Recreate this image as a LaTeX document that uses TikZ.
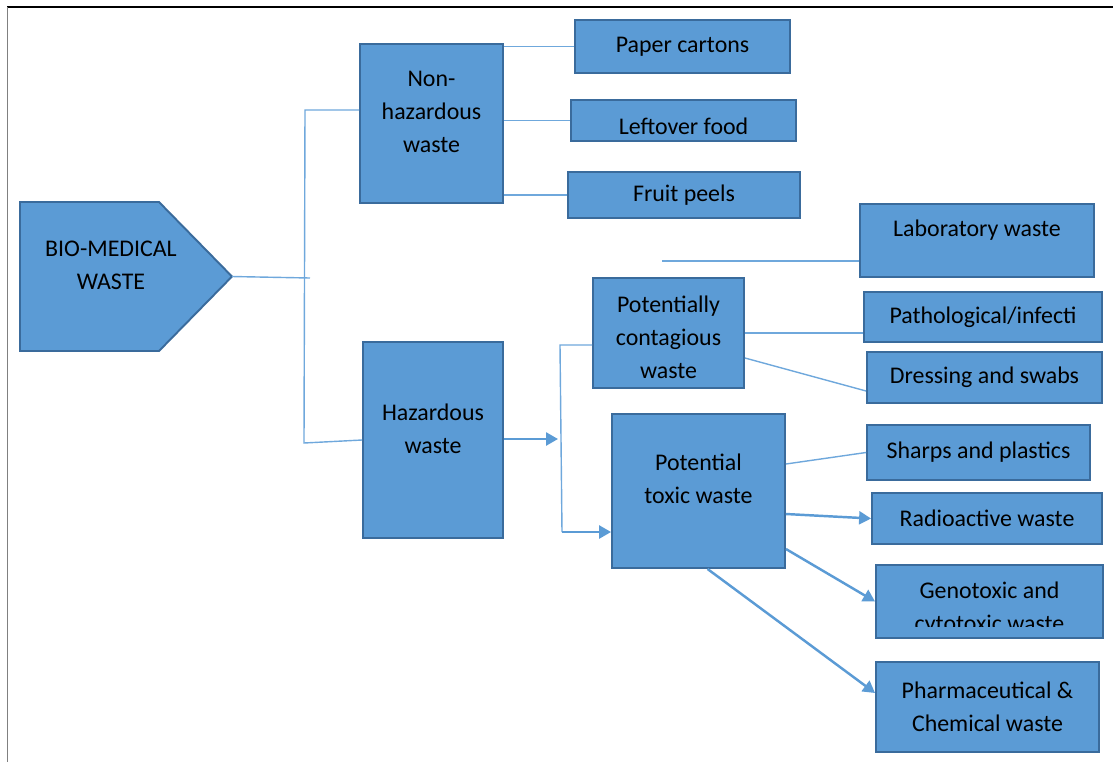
\documentclass[tikz,border=0pt]{standalone}
\usepackage{fontspec}
\setmainfont{Carlito}
\usetikzlibrary{positioning}
\usetikzlibrary{calc}
\usetikzlibrary{arrows.meta}
\definecolor{boxfill}{HTML}{5B9BD5}
\definecolor{boxline}{HTML}{3A6B9C}
\definecolor{linkcol}{HTML}{6FA8DC}

\begin{document}
\begin{tikzpicture}[x=0.02cm, y=-0.02cm, font=\fontsize{13.6}{18.9}\selectfont,
        box/.style={draw=boxline, fill=boxfill, line width=1.1pt, inner sep=0pt, align=center},
        txt/.style={align=center, inner sep=0pt},
        conn/.style={draw=linkcol, line width=0.8pt},
        arrow/.style={draw=boxfill, line width=1.4pt, -{Triangle[length=6.8pt, width=7.4pt]}}]
        \useasboundingbox (0,0) rectangle (1113,762);
        \draw[line width=1.2pt] (7,7) -- (1113,7);
        \draw[gray, line width=0.5pt] (7,7) -- (7,762);

        \draw[box] (20,202) -- (159,202) -- (232,276.5) -- (159,351) -- (20,351) -- cycle;
        \coordinate (tip) at (232,276.5);
        \node[txt] (bmw) at (111,265) {BIO-MEDICAL\\WASTE};

        \node[box, minimum width=2.86cm, minimum height=3.18cm, label={[txt, yshift=0.23cm]center:Non-\\hazardous\\waste}] (nonhaz) at (431.5,123.5) {};
        \node[box, minimum width=2.80cm, minimum height=3.92cm, label={[txt, yshift=0.22cm]center:Hazardous\\waste}] (haz) at (433,440) {};

        \node[box, minimum width=4.30cm, minimum height=1.06cm] (paper) at (682.5,46.5) {Paper cartons};
        \node[box, minimum width=4.50cm, minimum height=0.82cm, label={[txt, yshift=-0.11cm]center:Leftover food}] (leftover) at (683.5,120.5) {};
        \node[box, minimum width=4.64cm, minimum height=0.92cm] (fruit) at (684,195) {Fruit peels};

        \node[box, minimum width=4.68cm, minimum height=1.46cm, label={[txt, yshift=0.21cm]center:Laboratory waste}] (lab) at (977,240.5) {};
        \node[box, minimum width=3.02cm, minimum height=2.20cm, label={[txt, yshift=-0.09cm]center:Potentially\\contagious\\waste}] (contag) at (668.5,333) {};
        \node[box, minimum width=3.46cm, minimum height=3.08cm, label={[txt, yshift=0.25cm]center:Potential\\toxic waste}] (toxic) at (698.5,491) {};

        \node[box, minimum width=4.76cm, minimum height=1.00cm] (patho) at (983,317) {Pathological/infecti};
        \node[box, minimum width=4.70cm, minimum height=1.02cm] (dress) at (984.5,377.5) {Dressing and swabs};
        \node[box, minimum width=4.46cm, minimum height=1.10cm] (sharps) at (978.5,452.5) {Sharps and plastics};
        \node[box, minimum width=4.60cm, minimum height=1.02cm] (radio) at (987,518.5) {Radioactive waste};
        \node[box, minimum width=4.54cm, minimum height=1.46cm, path picture={
                \clip ([yshift=0.24cm]path picture bounding box.south west) rectangle (path picture bounding box.north east);
                \node[txt] (genotxt) at ([yshift=-0.15cm]path picture bounding box.center) {Genotoxic and\\cytotoxic waste};}] (geno) at (989.5,601.5) {};
        \node[box, minimum width=4.46cm, minimum height=1.80cm] (pharma) at (987.5,707) {Pharmaceutical \&\\Chemical waste};

        \coordinate (busM) at (310,278);
        \coordinate (busT) at (305,110);
        \coordinate (busB) at (304,443);
        \draw[conn] (tip) -- (busM);
        \draw[conn] (nonhaz.west |- busT) -- (busT) -- (busB) -- (haz.west);

        \draw[conn] (nonhaz.east |- paper) -- (paper);
        \draw[conn] (nonhaz.east |- leftover) -- (leftover);
        \draw[conn] (nonhaz.east |- fruit) -- (fruit);
        \coordinate (labend) at (662,261);
        \draw[conn] (labend) -- (labend -| lab.west);

        \coordinate (hub) at (558,439);
        \coordinate (hubT) at (560,345);
        \coordinate (hubB) at (562,532);
        \draw[arrow] (haz.east |- hub) -- (hub);
        \draw[conn] (contag.west |- hubT) -- (hubT) -- (hubB);
        \draw[arrow] (hubB) -- (hubB -| toxic.west);

        \draw[conn] (contag.east) -- (contag.east -| patho.west);
        \draw[conn] ($(contag.east)+(0,25)$) -- ($(dress.west)+(0,13.5)$);
        \draw[conn] ($(toxic.east)+(0,-27)$) -- (sharps.west);
        \draw[arrow] ($(toxic.east)+(0,23)$) -- (radio.west);
        \draw[arrow] ($(toxic.east)+(0,58)$) -- (geno.west);
        \draw[arrow] ($(toxic.south)+(9,0)$) -- ($(pharma.west)+(0,-14)$);
    \end{tikzpicture}
\end{document}
